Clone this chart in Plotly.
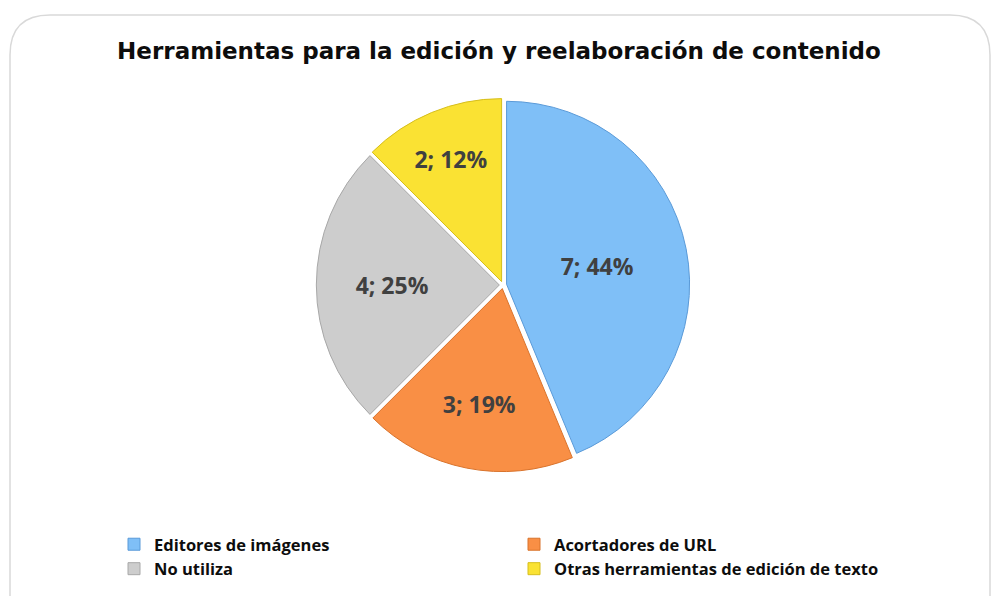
import plotly.graph_objects as go

categories = ["Editores de imágenes", "Acortadores de URL", "No utiliza",
              "Otras herramientas de edición de texto"]
values = [7, 3, 4, 2]
pct_labels = ["44%", "19%", "25%", "12%"]
colors = ["#7FBFF7", "#F98F45", "#CDCDCD", "#FAE233"]
edge_colors = ["#5A9AD8", "#D9732C", "#A8A8A8", "#D6BE1C"]

W, H = 998, 596
cx, cy, r = 503, 285, 183
pull = 0.02
half = r * (1 + pull)

labels_text = [f"{v}; {p}" for v, p in zip(values, pct_labels)]

fig = go.Figure(go.Pie(
    labels=categories,
    values=values,
    text=labels_text,
    textinfo="text",
    textposition="inside",
    insidetextorientation="horizontal",
    sort=False,
    direction="clockwise",
    rotation=0,
    pull=[pull] * 4,
    marker=dict(colors=colors, line=dict(color=edge_colors, width=1)),
    textfont=dict(family="Open Sans", size=23, color="#404040", weight="bold"),
    hoverinfo="label+value+percent",
    domain=dict(x=[(cx - half) / W, (cx + half) / W],
                y=[(H - cy - half) / H, (H - cy + half) / H]),
))

fig.update_layout(
    width=W, height=H,
    margin=dict(l=0, r=0, t=0, b=0, autoexpand=False),
    paper_bgcolor="white",
    title=dict(text="<b>Herramientas para la edición y reelaboración de contenido</b>",
               x=0.5, xanchor="center", y=1 - 51 / H, yanchor="middle",
               font=dict(family="DejaVu Sans", size=23, color="#0D0D0D")),
    legend=dict(orientation="h", x=114 / W, xanchor="left", y=1 - 527 / H, yanchor="top",
                entrywidth=355, entrywidthmode="pixels",
                font=dict(family="Open Sans", size=16.5, color="#0D0D0D", weight="bold"),
                traceorder="normal", itemclick=False),
    shapes=[dict(type="path", xref="paper", yref="paper",
                 path=(f"M {10/W} {1-600/H} L {10/W} {1-55/H} "
                       f"Q {10/W} {1-15/H} {50/W} {1-15/H} "
                       f"L {950/W} {1-15/H} Q {990/W} {1-15/H} {990/W} {1-55/H} "
                       f"L {990/W} {1-600/H}"),
                 line=dict(color="#D9D9D9", width=1.5))],
)

fig.write_html("out.html")
